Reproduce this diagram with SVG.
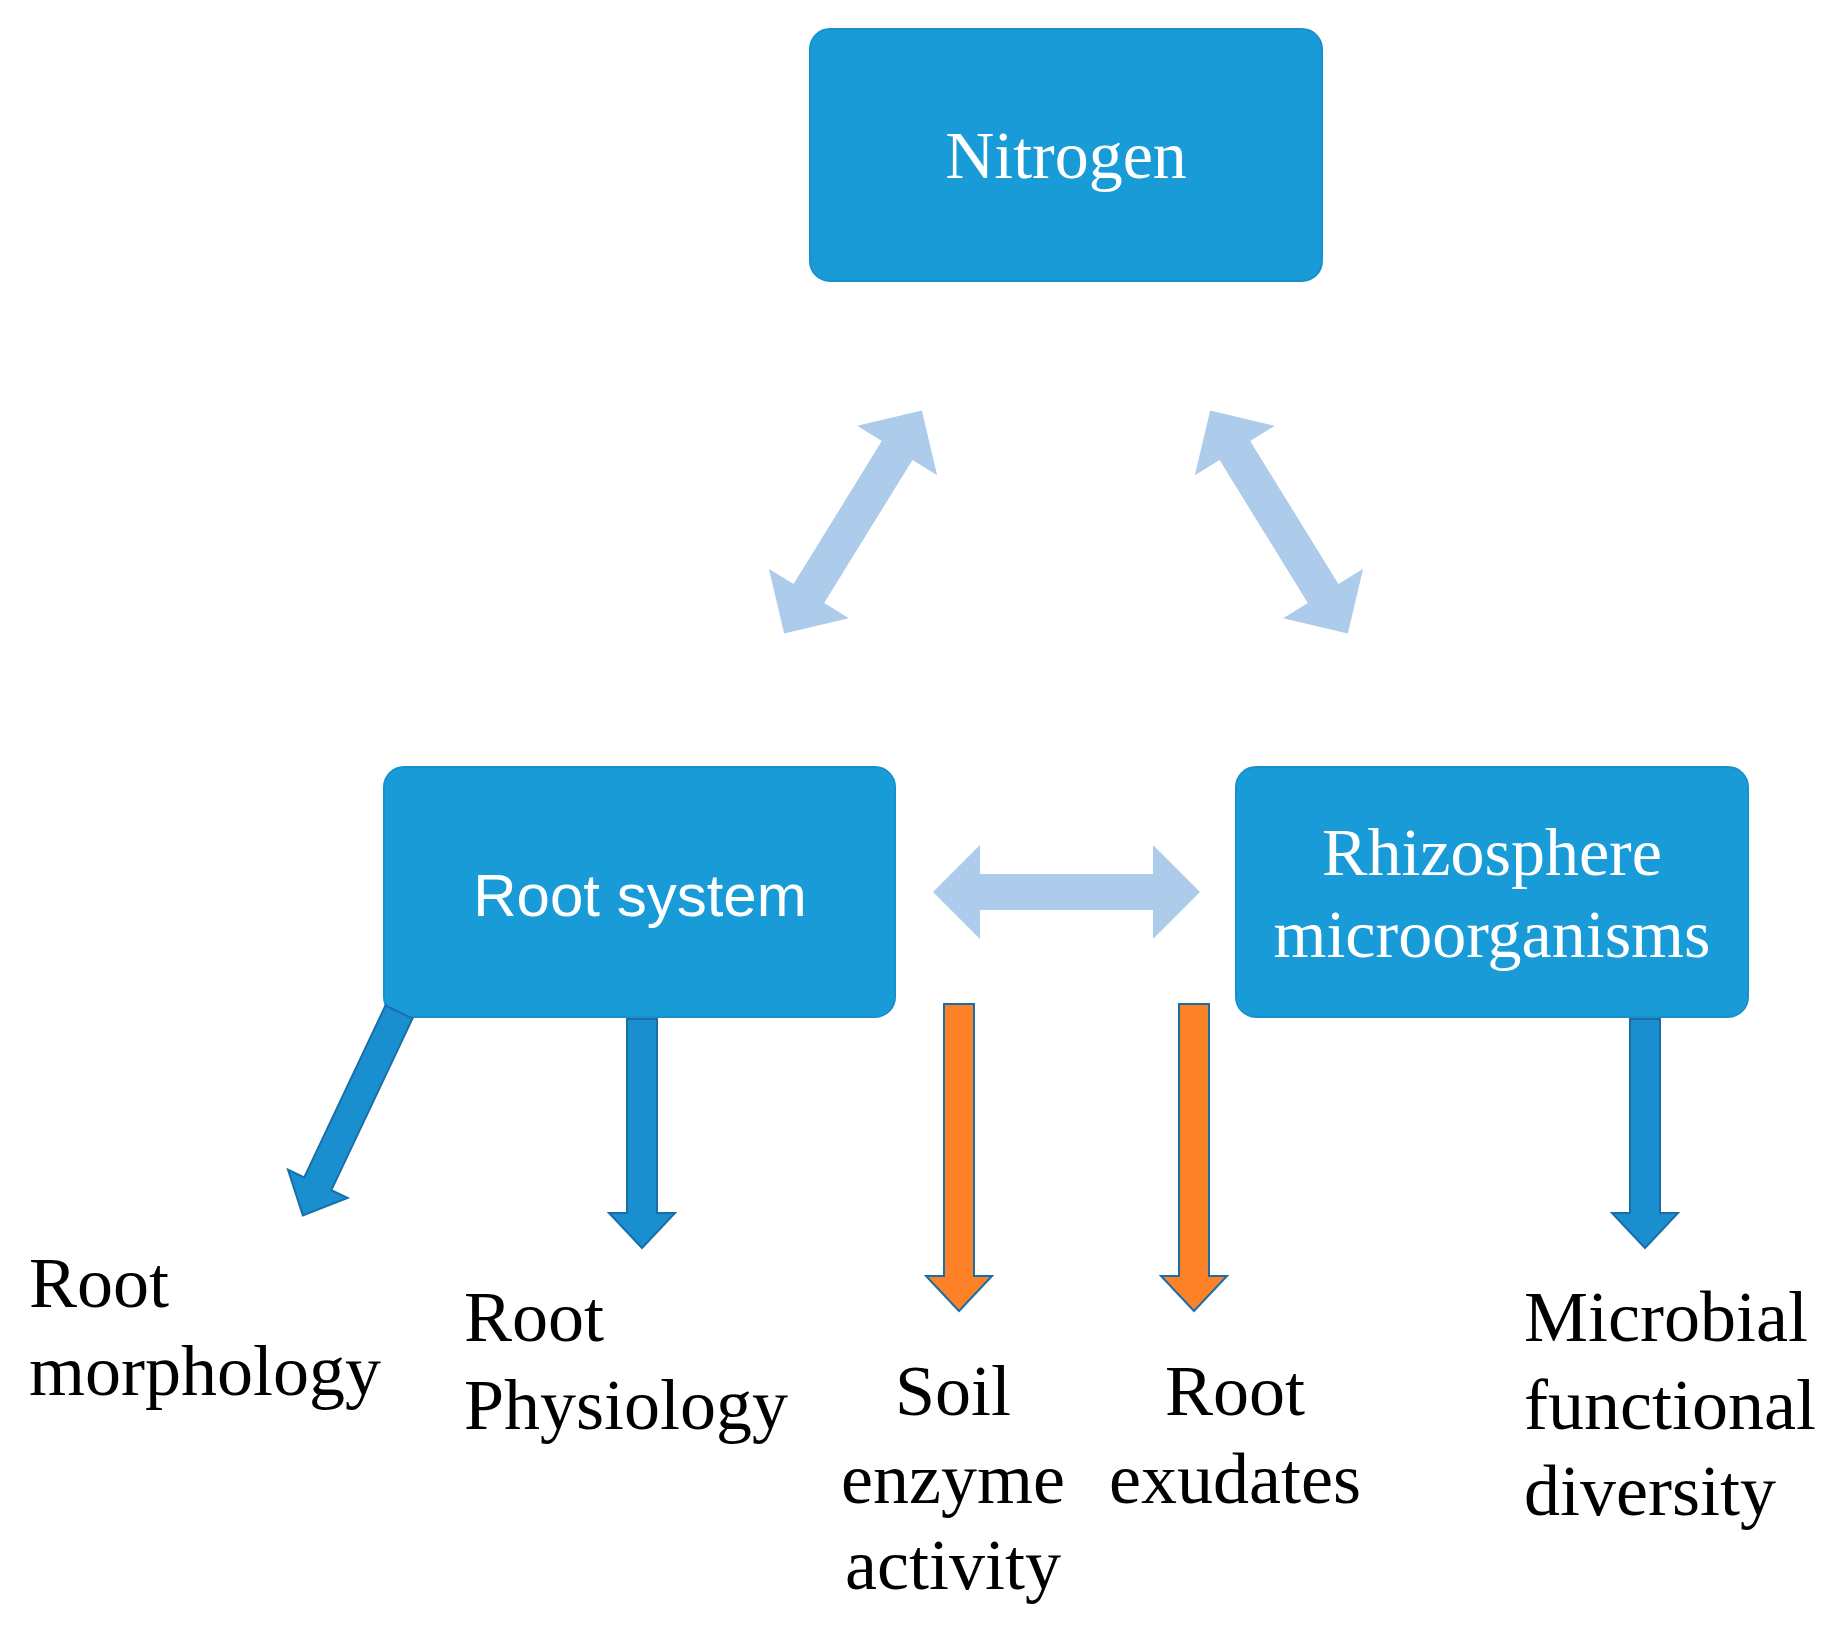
<svg xmlns="http://www.w3.org/2000/svg" width="1839" height="1629" viewBox="0 0 1839 1629">
<style>
.box{fill:#199bd7;stroke:#1990cc;stroke-width:2}
.wt{fill:#fff;font-family:"Liberation Serif",serif;font-size:68px;text-anchor:middle}
.lb{fill:#000;font-family:"Liberation Serif",serif;font-size:72px}
.dbl{fill:#adcbea}
.blu{fill:#1a8fd0;stroke:#1a6ea8;stroke-width:2}
.org{fill:#fd8127;stroke:#1a6ea8;stroke-width:2}
</style>
<defs>
<path id="dbl" d="M0,0 L47,-47 L47,-17 L-47,-17 L-47,-47 Z"/>
</defs>
<g id="nitrogen"><rect class="box" x="810" y="29" width="512" height="252" rx="20"/><text class="wt" x="1066" y="178">Nitrogen</text></g>
<g id="root-system"><rect class="box" x="384" y="767" width="511" height="250" rx="20"/><text x="640" y="916" fill="#fff" font-family="Liberation Sans,sans-serif" font-size="60" text-anchor="middle">Root system</text></g>
<g id="rhizo"><rect class="box" x="1236" y="767" width="512" height="250" rx="20"/><text class="wt" x="1492" y="875">Rhizosphere</text><text class="wt" x="1492" y="957">microorganisms</text></g>
<g id="connectors">
<g transform="translate(853,522) rotate(-58.3)"><path class="dbl" d="M-131,0 L-84,-47 L-84,-18 L84,-18 L84,-47 L131,0 L84,47 L84,18 L-84,18 L-84,47 Z"/></g>
<g transform="translate(1279,522) rotate(58.3)"><path class="dbl" d="M-131,0 L-84,-47 L-84,-18 L84,-18 L84,-47 L131,0 L84,47 L84,18 L-84,18 L-84,47 Z"/></g>
<path class="dbl" d="M933,892 L980,845 L980,874 L1153,874 L1153,845 L1200,892 L1153,939 L1153,910 L980,910 L980,939 Z"/>
<g transform="translate(399,1012) rotate(115.3)"><path class="blu" d="M0,-15 L190,-15 L190,-33 L225,0 L190,33 L190,15 L0,15 Z"/></g>
<path class="blu" d="M627,1019 L657,1019 L657,1213 L675,1213 L642,1248 L609,1213 L627,1213 Z"/>
<path class="org" d="M944,1004 L974,1004 L974,1276 L992,1276 L959,1311 L926,1276 L944,1276 Z"/>
<path class="org" d="M1179,1004 L1209,1004 L1209,1276 L1227,1276 L1194,1311 L1161,1276 L1179,1276 Z"/>
<path class="blu" d="M1630,1019 L1660,1019 L1660,1213 L1678,1213 L1645,1248 L1612,1213 L1630,1213 Z"/>
</g>
<g id="labels">
<text class="lb" x="29" y="1307">Root</text><text class="lb" x="29" y="1395">morphology</text>
<text class="lb" x="464" y="1341">Root</text><text class="lb" x="464" y="1429">Physiology</text>
<text class="lb" x="953" y="1415" text-anchor="middle">Soil</text><text class="lb" x="953" y="1503" text-anchor="middle">enzyme</text><text class="lb" x="953" y="1589" text-anchor="middle">activity</text>
<text class="lb" x="1235" y="1415" text-anchor="middle">Root</text><text class="lb" x="1235" y="1503" text-anchor="middle">exudates</text>
<text class="lb" x="1524" y="1341">Microbial</text><text class="lb" x="1524" y="1429">functional</text><text class="lb" x="1524" y="1515">diversity</text>
</g>
</svg>
